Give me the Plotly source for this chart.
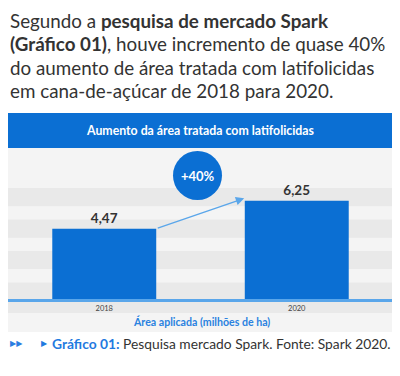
import plotly.graph_objects as go

categories = ["2018", "2020"]
values = [4.47, 6.25]
value_labels = ["4,47", "6,25"]
growth_label = "+40%"
header_title = "Aumento da área tratada com latifolicidas"
axis_title = "Área aplicada (milhões de ha)"
intro_lines = [
    "Segundo a <b>pesquisa de mercado Spark</b>",
    "<b>(Gráfico 01)</b>, houve incremento de quase 40%",
    "do aumento de área tratada com latifolicidas",
    "em cana-de-açúcar de 2018 para 2020.",
]
footer_bold = "Gráfico 01:"
footer_text = " Pesquisa mercado Spark. Fonte: Spark 2020."

# the page has an 8px body margin, so the figure is laid out in page pixels minus that offset
OFF = 8
W, H = 400 - OFF, 376 - OFF
BLUE = "#0b6fd3"
LIGHTBLUE = "#5aa6ea"
DARK = "#333333"
FONT = "Lato"

def px(x):
    return (x - OFF) / W

def py(y):
    return 1 - (y - OFF) / H

x0p, x1p = 8, 393
base_y, top_y = 298, 148
yr = [0, 9.6]

fig = go.Figure()
fig.add_trace(go.Bar(
    x=categories, y=values, width=0.54,
    marker=dict(color=BLUE, line=dict(width=0)),
    text=value_labels, textposition="outside",
    textfont=dict(family=FONT, size=13.5, color=DARK),
    texttemplate="<b>%{text}</b>",
    cliponaxis=False, hoverinfo="skip",
))

shapes = []
shapes.append(dict(type="rect", xref="paper", yref="paper",
                   x0=px(x0p), x1=px(x1p), y0=py(148), y1=py(113),
                   fillcolor=BLUE, line=dict(width=0), layer="below"))
for k in range(4):
    lo = max(0, 2 * k - 0.1)
    hi = 2 * k + 1.05
    shapes.append(dict(type="rect", xref="paper", yref="y",
                       x0=px(x0p), x1=px(x1p), y0=lo, y1=hi,
                       fillcolor="#e9e9e9", line=dict(width=0), layer="below"))
shapes.append(dict(type="rect", xref="paper", yref="paper",
                   x0=px(x0p), x1=px(x1p), y0=py(313), y1=py(300),
                   fillcolor="#e9e9e9", line=dict(width=0), layer="below"))
shapes.append(dict(type="rect", xref="paper", yref="paper",
                   x0=px(x0p), x1=px(x1p), y0=py(332), y1=py(313),
                   fillcolor="#f4f4f4", line=dict(width=0), layer="below"))
shapes.append(dict(type="circle", xref="paper", yref="paper",
                   x0=px(173), x1=px(222), y0=py(200), y1=py(151),
                   fillcolor=BLUE, line=dict(width=0)))

annotations = []
for i, line in enumerate(intro_lines):
    annotations.append(dict(xref="paper", yref="paper", x=px(8), y=py(20 + i * 23.5),
                            xanchor="left", yanchor="middle", showarrow=False,
                            text=line, font=dict(family=FONT, size=18.8, color=DARK)))
annotations.append(dict(xref="paper", yref="paper", x=px(200), y=py(130.5),
                        xanchor="center", yanchor="middle", showarrow=False,
                        text="<b>" + header_title + "</b>",
                        font=dict(family=FONT, size=12.3, color="white")))
annotations.append(dict(xref="paper", yref="paper", x=px(197.5), y=py(175.5),
                        xanchor="center", yanchor="middle", showarrow=False,
                        text="<b>" + growth_label + "</b>",
                        font=dict(family=FONT, size=13, color="white")))
annotations.append(dict(xref="paper", yref="paper", x=px(201), y=py(321),
                        xanchor="center", yanchor="middle", showarrow=False,
                        text="<b>" + axis_title + "</b>",
                        font=dict(family=FONT, size=10.6, color="#2a82e0")))
annotations.append(dict(xref="x", yref="y", axref="x", ayref="y",
                        x=0.727, y=6.4, ax=0.27, ay=values[0],
                        showarrow=True, arrowhead=2, arrowsize=1.2, arrowwidth=1.4,
                        arrowcolor=LIGHTBLUE, text=""))
annotations.append(dict(xref="paper", yref="paper", x=px(8), y=py(343),
                        xanchor="left", yanchor="middle", showarrow=False,
                        text="▶▶", font=dict(family="DejaVu Sans", size=8, color="#2a7de1")))
annotations.append(dict(xref="paper", yref="paper", x=px(39), y=py(343),
                        xanchor="left", yanchor="middle", showarrow=False,
                        text="▶", font=dict(family="DejaVu Sans", size=8, color="#1f7ae0")))
annotations.append(dict(xref="paper", yref="paper", x=px(50), y=py(343),
                        xanchor="left", yanchor="middle", showarrow=False,
                        text="<span style='color:#1f7ae0'><b>" + footer_bold + "</b></span>" + footer_text,
                        font=dict(family=FONT, size=13.8, color=DARK)))

fig.update_layout(
    width=W, height=H, margin=dict(l=0, r=0, t=0, b=0),
    paper_bgcolor="white", plot_bgcolor="#f4f4f4",
    showlegend=False, shapes=shapes, annotations=annotations,
    xaxis=dict(domain=[px(x0p), px(x1p)], range=[-0.5, 1.5], type="category",
               showline=True, linecolor=LIGHTBLUE, linewidth=3,
               ticks="", tickfont=dict(family=FONT, size=7.5, color="#444"),
               showgrid=False, fixedrange=True),
    yaxis=dict(domain=[py(base_y + 1), py(top_y)], range=yr, visible=False,
               showgrid=False, fixedrange=True),
)

fig.write_html("out.html")
